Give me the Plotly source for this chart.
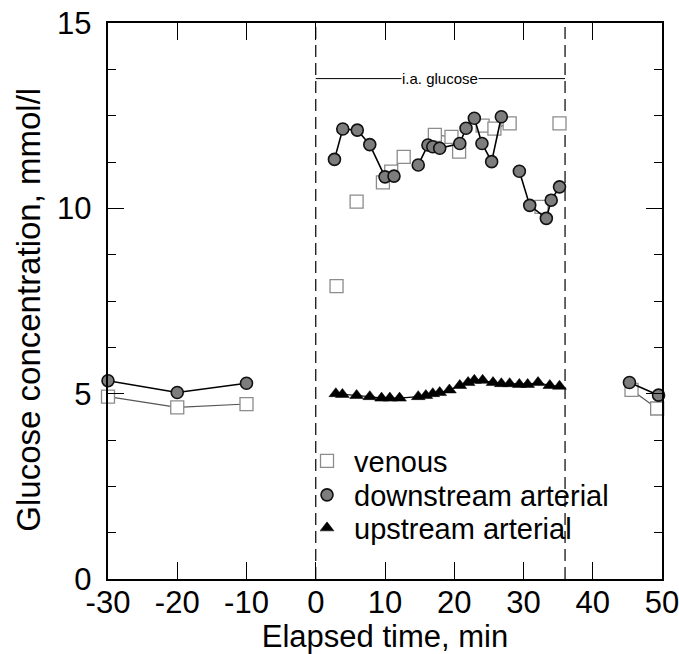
import plotly.graph_objects as go

# ---------------- data ----------------
# venous (open squares); None = gap in connecting line
venous_x = [-30, -20, -10, None, 3.0, None, 5.9, None, 9.7, 10.9, 12.7, None,
            17.2, 19.6, 20.7, None, 24.1, 25.8, 28.0, None, 32.6, None, 35.2, None,
            45.6, 49.3]
venous_y = [4.92, 4.63, 4.72, None, 7.9, None, 10.18, None, 10.7, 10.99, 11.39, None,
            11.98, 11.93, 11.53, None, 12.23, 12.15, 12.29, None, 10.04, None, 12.29, None,
            5.1, 4.6]

# downstream arterial (grey filled circles)
down_x = [-30, -20, -10, None, 2.7, 3.9, 6.0, 7.8, 10.0, None, 11.3, None,
          14.8, 16.2, 16.9, 17.9, 20.8, 21.7, 22.9, 24.0, 25.4, 26.8, None,
          29.4, 30.9, 33.3, 34.0, 35.2, None, 45.3, 49.5]
down_y = [5.35, 5.03, 5.28, None, 11.32, 12.14, 12.11, 11.72, 10.85, None, 10.87, None,
          11.17, 11.71, 11.66, 11.62, 11.75, 12.16, 12.43, 11.75, 11.26, 12.47, None,
          11.0, 10.08, 9.73, 10.22, 10.58, None, 5.3, 4.96]

# upstream arterial (black triangles)
up_x = [2.9, 3.85, 5.9, 7.8, 9.5, 10.7, 12.1, 14.8, 15.9, 16.9, 17.9, 19.3,
        20.8, 22.0, 22.9, 24.1, 25.6, 26.8, 28.0, 29.4, 30.6, 32.1, 33.8, 35.2]
up_y = [5.0, 4.98, 4.95, 4.92, 4.88, 4.88, 4.88, 4.92, 4.95, 5.0, 5.03, 5.1,
        5.22, 5.3, 5.36, 5.36, 5.3, 5.27, 5.27, 5.25, 5.25, 5.3, 5.22, 5.2]

infusion_start = 0
infusion_end = 36
bracket_level = 13.5
bracket_label = "i.a. glucose"

x_ticks = [-30, -20, -10, 0, 10, 20, 30, 40, 50]
x_tick_text = ["-30", "-20", "-10", "0", "10", "20", "30", "40", "50"]
y_ticks = [0, 5, 10, 15]
y_tick_text = ["0", "5", "10", "15"]

x_title = "Elapsed time, min"
y_title = "Glucose concentration, mmol/l"
legend_names = ["venous", "downstream arterial", "upstream arterial"]

FONT = "Liberation Sans, Arial, Helvetica, sans-serif"

fig = go.Figure()

sq_marker = dict(symbol="square", size=13, color="white",
                 line=dict(color="#8c8c8c", width=1.3))
ci_marker = dict(symbol="circle", size=12, color="#7d7d7d",
                 line=dict(color="#111111", width=1.6))
tr_marker = dict(symbol="triangle-up", size=12, color="black",
                 line=dict(color="black", width=0.5))

fig.add_trace(go.Scatter(x=venous_x, y=venous_y, mode="lines+markers",
                         line=dict(color="#555555", width=1.1),
                         marker=sq_marker, showlegend=False, cliponaxis=False))
fig.add_trace(go.Scatter(x=down_x, y=down_y, mode="lines+markers",
                         line=dict(color="black", width=1.6),
                         marker=ci_marker, showlegend=False, cliponaxis=False))
fig.add_trace(go.Scatter(x=up_x, y=up_y, mode="lines+markers",
                         line=dict(color="black", width=1.2),
                         marker=tr_marker, showlegend=False, cliponaxis=False))

# legend-only entries (markers only), one legend per row for precise spacing
legend_ids = ["legend", "legend2", "legend3"]
for name, mk, lid in zip(legend_names, [sq_marker, ci_marker, tr_marker], legend_ids):
    fig.add_trace(go.Scatter(x=[None], y=[None], mode="markers", name=name,
                             marker=mk, showlegend=True, legend=lid))

# infusion period dashed lines
for xv in (infusion_start, infusion_end):
    fig.add_shape(type="line", xref="x", yref="y", x0=xv, x1=xv, y0=0, y1=15,
                  line=dict(color="black", width=1.2, dash="12px,6px"), layer="below")

# bracket
fig.add_shape(type="line", xref="x", yref="y", x0=infusion_start, x1=infusion_end,
              y0=bracket_level, y1=bracket_level, line=dict(color="black", width=1))
fig.add_annotation(x=(infusion_start + infusion_end) / 2, y=bracket_level,
                   text=bracket_label, showarrow=False, bgcolor="white",
                   font=dict(family=FONT, size=15, color="black"),
                   xanchor="center", yanchor="middle", borderpad=0)

# y-axis title as rotated annotation (placed close to the tick labels)
fig.add_annotation(xref="paper", yref="paper", x=-0.143, y=0.484,
                   text=y_title, textangle=-90, showarrow=False,
                   xanchor="center", yanchor="middle",
                   font=dict(family=FONT, size=33, color="black"))

axis_common = dict(showline=True, linecolor="black", linewidth=1.5, mirror="ticks",
                   ticks="inside", tickcolor="black", tickwidth=1.3,
                   showgrid=False, zeroline=False, automargin=False,
                   ticklabeloverflow="allow",
                   tickfont=dict(family=FONT, size=31, color="black"))

fig.update_xaxes(range=[-30, 50], tickvals=x_ticks, ticktext=x_tick_text, ticklen=17,
                 ticklabelstandoff=-5,
                 title=dict(text=x_title, standoff=12,
                            font=dict(family=FONT, size=31, color="black")),
                 **axis_common)
fig.update_yaxes(range=[0, 15], tickvals=y_ticks,
                 ticktext=[t + "\u00a0" for t in y_tick_text], ticklen=16,
                 minor=dict(dtick=1.25, ticks="inside", ticklen=8,
                            tickcolor="black", tickwidth=1.2, showgrid=False),
                 **axis_common)

leg_common = dict(x=0.3466, xanchor="left", yanchor="middle",
                  bgcolor="rgba(0,0,0,0)", borderwidth=0,
                  font=dict(family=FONT, size=29, color="black"),
                  itemwidth=44)
fig.update_layout(
    width=679, height=654,
    margin=dict(l=108, r=17, t=23, b=75, autoexpand=False),
    plot_bgcolor="white", paper_bgcolor="white",
    legend=dict(y=0.2122, **leg_common),
    legend2=dict(y=0.1511, **leg_common),
    legend3=dict(y=0.0917, **leg_common),
    showlegend=True,
)

fig.write_html("out.html", config={"displayModeBar": False},
               post_script="document.body.style.margin='0px';"
                           "document.body.style.overflow='hidden';")
